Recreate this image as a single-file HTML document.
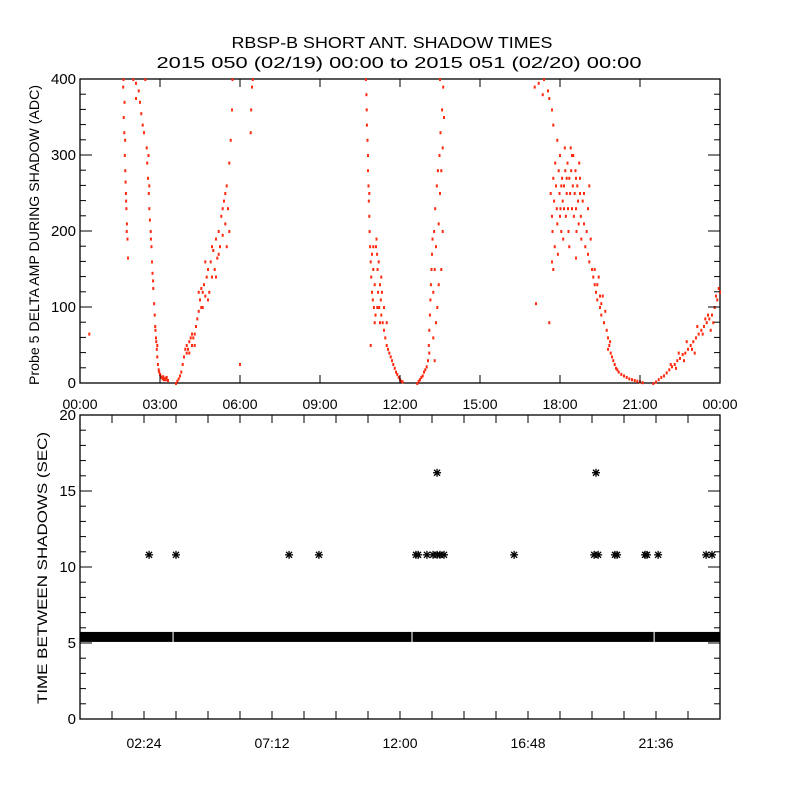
<!DOCTYPE html>
<html><head><meta charset="utf-8"><style>
html,body{margin:0;padding:0;background:#fff;}
svg{display:block;font-family:"Liberation Sans",sans-serif;}
</style></head><body>
<svg id="chart" width="800" height="800" viewBox="0 0 800 800" xmlns="http://www.w3.org/2000/svg">
<rect width="800" height="800" fill="#fff"/>
<text x="392" y="48" font-size="16" text-anchor="middle" textLength="321" lengthAdjust="spacingAndGlyphs">RBSP-B SHORT ANT. SHADOW TIMES</text>
<text x="399" y="68" font-size="16" text-anchor="middle" textLength="485" lengthAdjust="spacingAndGlyphs">2015 050 (02/19) 00:00 to 2015 051 (02/20) 00:00</text>
<g id="top"></g>
<g id="bot"></g>
</svg>
<script>
// ---- top panel data: [hour, value] ----
const topTickLabels = ["00:00","03:00","06:00","09:00","12:00","15:00","18:00","21:00","00:00"];
const topYTicks = [0,100,200,300,400];
const pass1 = [[1.62,390],[1.64,350],[1.66,330],[1.68,300],[1.70,280],[1.72,250],[1.74,230],[1.76,210],[1.78,190],[1.8,165],[1.67,370],[1.71,265],[1.75,200],[1.63,400],[1.69,320],[1.73,240],
[2.0,400],[2.1,395],[2.2,385],[2.25,370],[2.3,355],[2.1,375],[2.35,340],[2.4,330],[2.45,400],[2.5,310],[2.52,290],[2.55,270],[2.58,250],[2.6,230],[2.62,215],[2.65,200],[2.68,180],[2.7,160],[2.72,145],[2.75,125],[2.78,105],[2.8,90],[2.82,75],[2.85,60],[2.88,45],[2.9,35],[2.92,25],[2.95,18],[3.0,12],[3.05,8],[3.1,6],[3.15,5],[3.2,7],[3.25,8],[3.3,4],[2.66,190],[2.74,135],[2.6,260],[2.57,300],[2.83,70],[2.86,55],[2.97,15],[3.02,10],[3.12,9],[3.22,5],[2.9,50],
[3.6,0],[3.65,3],[3.7,6],[3.75,10],[3.8,15],[3.85,25],[3.9,35],[3.95,45],[4.0,50],[4.05,45],[4.1,55],[4.15,60],[4.2,50],[4.25,60],[4.3,65],[4.35,75],[4.4,85],[4.45,95],[4.5,110],[4.55,100],[4.6,120],[4.65,130],[4.7,115],[4.75,140],[4.8,150],[4.85,120],[4.9,160],[4.95,140],[5.0,175],[5.05,150],[5.1,190],[5.15,165],[5.2,200],[5.25,180],[5.3,220],[5.35,195],[5.4,240],[5.45,210],[5.5,260],[5.55,230],[5.6,290],[5.65,320],[5.7,360],[5.72,400],[4.0,40],[4.1,40],[4.2,65],[4.45,120],[4.55,125],[4.7,160],[4.8,110],[4.95,180],[5.1,140],[5.2,170],[5.35,230],[5.45,250],[5.6,200],[5.5,180],[4.3,50],[4.6,100],
[6.4,330],[6.42,360],[6.45,390],[6.48,400],[6.0,25],[0.35,65]];
const pass2 = [[10.72,400],[10.74,380],[10.75,360],[10.76,340],[10.78,320],[10.8,300],[10.8,280],[10.82,260],[10.83,240],[10.85,220],[10.86,200],[10.88,180],[10.9,160],[10.92,140],[10.95,120],[10.98,110],[11.0,150],[11.02,100],[11.05,130],[11.08,90],[11.1,180],[11.12,190],[11.14,170],[11.16,150],[11.18,120],[11.2,160],[11.22,100],[11.25,130],[11.28,110],[11.3,90],[11.32,120],[11.35,80],[11.4,70],[11.45,60],[11.5,50],[11.55,45],[11.6,40],[11.65,35],[11.7,30],[11.75,25],[11.8,20],[11.85,15],[11.9,12],[11.95,8],[12.0,5],[12.05,3],[12.1,2],[11.0,180],[10.95,170],[11.05,80],[11.15,100],[11.25,80],[11.3,140],[11.4,100],[11.5,80],[10.85,250],[10.9,50],
[12.65,0],[12.7,3],[12.75,5],[12.8,8],[12.85,10],[12.9,15],[12.95,18],[13.0,22],[13.05,30],[13.08,50],[13.1,70],[13.12,90],[13.14,110],[13.16,130],[13.18,150],[13.2,170],[13.22,190],[13.25,120],[13.28,200],[13.3,150],[13.32,230],[13.35,180],[13.38,260],[13.4,100],[13.42,280],[13.45,210],[13.48,300],[13.5,250],[13.52,330],[13.55,280],[13.58,360],[13.6,310],[13.62,390],[13.65,350],[13.55,150],[13.45,130],[13.35,80],[13.25,60],[13.5,400],[13.6,200],[13.1,40],[13.3,30]];
const pass3 = [[17.2,395],[17.4,400],[17.55,385],[17.6,375],[17.7,360],[17.75,340],[17.35,380],[17.9,320],[17.05,390],
[17.65,250],[17.7,220],[17.72,200],[17.75,270],[17.78,240],[17.8,180],[17.82,290],[17.85,260],[17.88,230],[17.9,210],[17.92,170],[17.95,280],[17.98,250],[18.0,300],[18.02,230],[18.05,200],[18.08,270],[18.1,240],[18.12,190],[18.15,260],[18.18,310],[18.2,280],[18.22,220],[18.25,250],[18.28,290],[18.3,230],[18.32,200],[18.35,270],[18.38,250],[18.4,310],[18.42,280],[18.45,230],[18.48,260],[18.5,300],[18.52,220],[18.55,250],[18.58,280],[18.6,230],[18.62,200],[18.65,260],[18.68,240],[18.7,210],[18.72,290],[18.75,250],[18.78,220],[18.8,190],[18.85,240],[18.9,210],[18.95,180],[19.0,200],[19.05,170],[19.1,160],[19.15,190],[19.2,150],[17.7,160],[17.75,150],[18.05,260],[18.15,230],[18.25,270],[18.45,300],[18.6,270],[18.75,270],[18.9,250],[19.05,230],[18.0,220],[18.35,180],[18.6,165],[19.1,260],
[19.25,140],[19.3,130],[19.35,120],[19.4,110],[19.45,140],[19.5,100],[19.55,90],[19.6,115],[19.65,80],[19.7,95],[19.75,70],[19.8,60],[19.85,50],[19.9,40],[19.95,35],[20.0,30],[19.8,45],[19.88,55],[20.05,25],[20.1,20],[20.15,18],[20.2,15],[20.3,12],[20.4,10],[20.5,8],[20.6,6],[20.7,5],[20.8,4],[20.9,3],[21.0,2],[21.1,1],[19.4,130],[19.55,105],[19.3,150],[19.5,115],
[17.1,105],[17.6,80],
[21.5,0],[21.6,2],[21.7,5],[21.8,8],[21.9,10],[22.0,14],[22.1,18],[22.2,22],[22.3,25],[22.4,30],[22.5,33],[22.6,38],[22.7,40],[22.8,45],[22.9,50],[23.0,55],[23.1,60],[23.2,65],[23.3,70],[23.4,75],[23.5,80],[23.6,85],[23.7,90],[23.8,100],[23.9,110],[24.0,120],[22.15,25],[22.45,40],[22.75,55],[22.95,45],[23.15,75],[23.35,65],[23.55,90],[23.75,80],[23.85,115],[23.95,125],[22.35,20],[22.65,30],[23.05,40],[23.45,85],[23.65,70]];

// ---- bottom panel data ----
const botTickLabels = ["02:24","07:12","12:00","16:48","21:36"];
const botTickHours = [2.4,7.2,12,16.8,21.6];
const botYTicks = [0,5,10,15,20];
const bandValue = 5.4;
const bandSegments = [[0,3.47],[3.51,12.43],[12.47,21.51],[21.55,24]];
const starHours = [2.59,3.6,7.84,8.96,12.6,12.68,13.01,13.24,13.39,13.5,13.65,16.28,19.28,19.43,20.06,20.14,21.19,21.26,21.68,23.48,23.7,13.39,19.35];
const starValues = [10.8,10.8,10.8,10.8,10.8,10.8,10.8,10.8,10.8,10.8,10.8,10.8,10.8,10.8,10.8,10.8,10.8,10.8,10.8,10.8,10.8,16.2,16.2];

const NS="http://www.w3.org/2000/svg";
function mk(tag,attrs,parent){const e=document.createElementNS(NS,tag);for(const k in attrs)e.setAttribute(k,attrs[k]);parent.appendChild(e);return e;}
const L=80,R=720;
const xH=h=>L+h/24*(R-L);
// top
const tT=79,tB=383;
const yT=v=>tB-v/400*(tB-tT);
const gt=document.getElementById('top');
const box1=mk('rect',{x:L,y:tT,width:R-L,height:tB-tT,fill:'none',stroke:'#000','stroke-width':1.3},gt);


const pts=mk('g',{fill:'#ff2a10'},gt);


[pass1,pass2,pass3].forEach(arr=>arr.forEach(p=>{
  const r=mk('rect',{x:(xH(p[0])-1).toFixed(1),y:(yT(p[1])-1).toFixed(1),width:2,height:3},pts);
  
  
}));
topTickLabels.forEach((t,i)=>{
  const x=xH(i*3);
  mk('line',{x1:x,y1:tB,x2:x,y2:tB-8,stroke:'#000'},gt);
  mk('line',{x1:x,y1:tT,x2:x,y2:tT+8,stroke:'#000'},gt);
  const tx=mk('text',{x:x,y:tB+26,'font-size':14,'text-anchor':'middle'},gt);
  tx.textContent=t;
  
  
});
for(let v=0;v<=400;v+=20){
  const y=yT(v),len=(v%100===0)?12:6;
  mk('line',{x1:L,y1:y,x2:L+len,y2:y,stroke:'#000'},gt);
  mk('line',{x1:R,y1:y,x2:R-len,y2:y,stroke:'#000'},gt);
}
topYTicks.forEach(v=>{
  const tx=mk('text',{x:76,y:yT(v)+5,'font-size':15,'text-anchor':'end'},gt);
  tx.textContent=v;
  
  
});
const yt1=mk('text',{x:0,y:0,'font-size':14,'text-anchor':'middle',textLength:300,lengthAdjust:'spacingAndGlyphs',transform:'translate(39,235) rotate(-90)'},gt);
yt1.textContent='Probe 5 DELTA AMP DURING SHADOW (ADC)';


// bottom
const bT=415,bB=719;
const yB=v=>bB-v/20*(bB-bT);
const gb=document.getElementById('bot');
const box2=mk('rect',{x:L,y:bT,width:R-L,height:bB-bT,fill:'none',stroke:'#000','stroke-width':1.3},gb);


for(let v=0;v<=20;v++){
  const y=yB(v),len=(v%5===0)?12:6;
  mk('line',{x1:L,y1:y,x2:L+len,y2:y,stroke:'#000'},gb);
  mk('line',{x1:R,y1:y,x2:R-len,y2:y,stroke:'#000'},gb);
}
botYTicks.forEach(v=>{
  const tx=mk('text',{x:76,y:yB(v)+5,'font-size':15,'text-anchor':'end'},gb);
  tx.textContent=v;
  
  
});
for(let h=1.2;h<24;h+=1.2){
  const x=xH(h);
  mk('line',{x1:x,y1:bB,x2:x,y2:bB-8,stroke:'#000'},gb);
  mk('line',{x1:x,y1:bT,x2:x,y2:bT+8,stroke:'#000'},gb);
}
botTickLabels.forEach((t,i)=>{
  const tx=mk('text',{x:xH(botTickHours[i]),y:bB+29,'font-size':14,'text-anchor':'middle'},gb);
  tx.textContent=t;
  
  
});
const band=mk('g',{fill:'#000'},gb);


bandSegments.forEach(s=>{
  const r=mk('rect',{x:xH(s[0]),y:yB(bandValue)-5,width:xH(s[1])-xH(s[0]),height:10},band);
  
  
});
starHours.forEach((h,i)=>{
  const x=xH(h),y=yB(starValues[i]),s=4;
  const g=mk('g',{stroke:'#000','stroke-width':1.3},gb);
  
  
  mk('line',{x1:x-s,y1:y,x2:x+s,y2:y},g);
  mk('line',{x1:x,y1:y-s,x2:x,y2:y+s},g);
  mk('line',{x1:x-3,y1:y-3,x2:x+3,y2:y+3},g);
  mk('line',{x1:x-3,y1:y+3,x2:x+3,y2:y-3},g);
});
const yt2=mk('text',{x:0,y:0,'font-size':14,'text-anchor':'middle',textLength:272,lengthAdjust:'spacingAndGlyphs',transform:'translate(47,568) rotate(-90)'},gb);
yt2.textContent='TIME BETWEEN SHADOWS (SEC)';


</script>
</body></html>
